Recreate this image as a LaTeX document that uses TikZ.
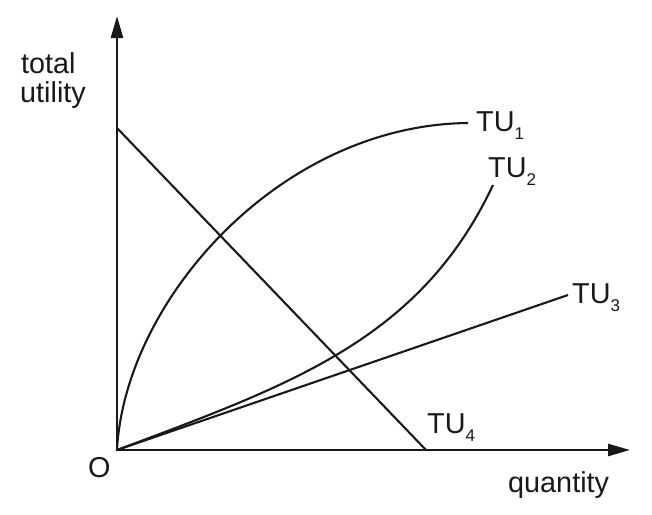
\documentclass[tikz,border=0pt]{standalone}
\usepackage{fontspec}
\setmainfont{Liberation Sans}
\usetikzlibrary{arrows.meta}
\newcommand\tusub[1]{\raisebox{-8.5pt}{\fontsize{17}{17}\selectfont #1}}
\begin{document}
\begin{tikzpicture}[x=1pt,y=-1pt,
  axis/.style={line width=2.5pt,line join=miter,{Triangle[length=22pt,width=12pt]}-{Triangle[length=22pt,width=12pt]}},
  curve/.style={line width=2.1pt,color=black!90},
  lbl/.style={inner sep=0pt,anchor=base west,font=\fontsize{28.8}{30}\selectfont,text=black!90}]
\useasboundingbox (0,0) rectangle (652,514);
\coordinate (o) at (117,450);
\coordinate (ytop) at (117,16);
\coordinate (xend) at (630,450);
\coordinate (a4) at (117,128);
\coordinate (b4) at (426,450);
\coordinate (e1) at (468,123);
\coordinate (e2) at (493,185);
\coordinate (e3) at (568,295);
\draw[axis,black!90] (ytop) -- (o) -- (xend);
\draw[curve] (a4) -- (b4);
\draw[curve] (o) -- (e3);
\draw[curve] (o) .. controls (125,300) and (280,125) .. (e1);
\draw[curve] (o) .. controls (290,385) and (420,340) .. (e2);
\node[lbl] (ltot) at (21,73) {total};
\node[lbl] (lutil) at (20,102) {utility};
\node[lbl] (lO) at (88,477) {O};
\node[lbl] (lq) at (508,492) {quantity};
\node[lbl] (l1) at (476,131) {TU\tusub{1}};
\node[lbl] (l2) at (488,177) {TU\tusub{2}};
\node[lbl] (l3) at (572,303) {TU\tusub{3}};
\node[lbl] (l4) at (427,433) {TU\tusub{4}};
\end{tikzpicture}
\end{document}
